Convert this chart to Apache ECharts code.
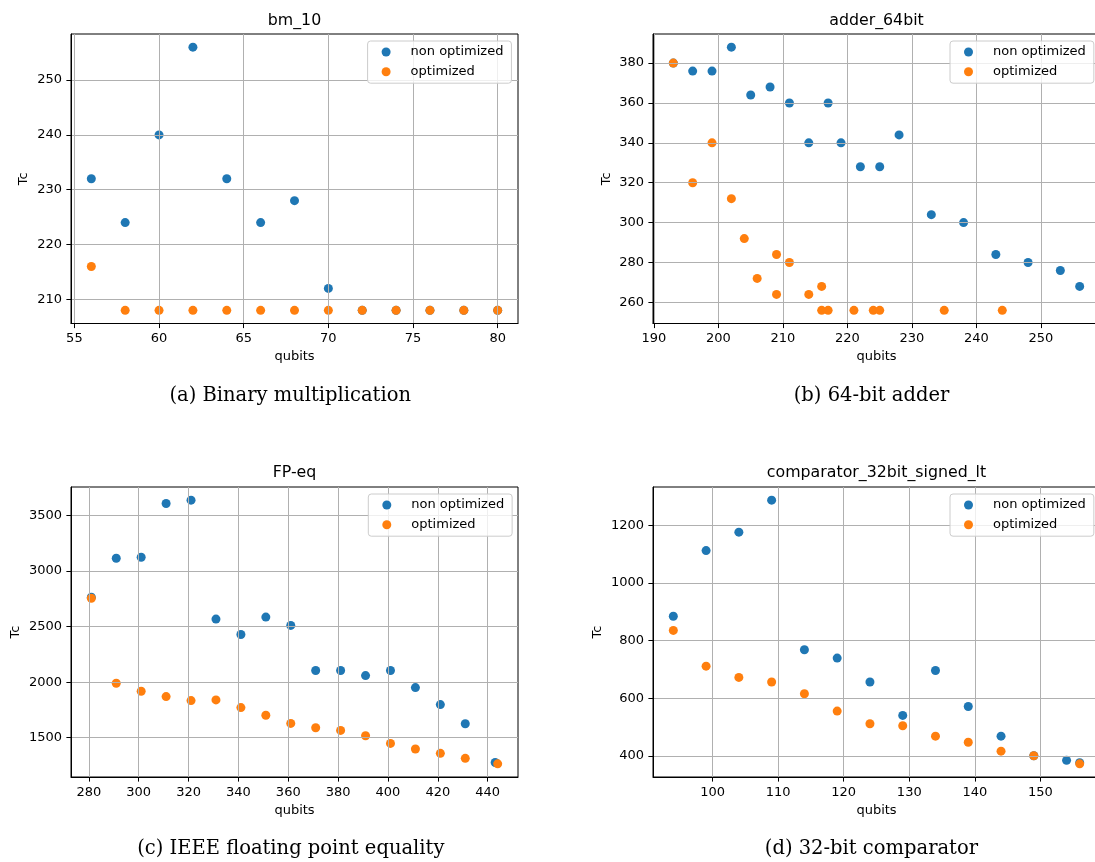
<!DOCTYPE html>
<html>
<head>
<meta charset="utf-8" />
<title>Tc vs qubits</title>
<script src="https://cdn.jsdelivr.net/npm/echarts@6/dist/echarts.min.js"></script>
<style>
html, body { margin: 0; padding: 0; background: #fff; }
#main { width: 1095px; height: 862px; }
</style>
</head>
<body>
<div id="main"></div>
<script>
// (a) bm_10
var bmQubitsNon = [56, 58, 60, 62, 64, 66, 68, 70, 72, 74, 76, 78, 80];
var bmTcNon = [232, 224, 240, 256, 232, 224, 228, 212, 208, 208, 208, 208, 208];
var bmQubitsOpt = [56, 58, 60, 62, 64, 66, 68, 70, 72, 74, 76, 78, 80];
var bmTcOpt = [216, 208, 208, 208, 208, 208, 208, 208, 208, 208, 208, 208, 208];
var bmXTicks = [55, 60, 65, 70, 75, 80];
var bmYTicks = [210, 220, 230, 240, 250];

// (b) adder_64bit
var adderQubitsNon = [193, 196, 199, 202, 205, 208, 211, 214, 217, 219, 222, 225, 228, 233, 238, 243, 248, 253, 256];
var adderTcNon = [380, 376, 376, 388, 364, 368, 360, 340, 360, 340, 328, 328, 344, 304, 300, 284, 280, 276, 268];
var adderQubitsOpt = [193, 196, 199, 202, 204, 206, 209, 209, 211, 214, 216, 216, 217, 221, 224, 225, 235, 244];
var adderTcOpt = [380, 320, 340, 312, 292, 272, 284, 264, 280, 264, 268, 256, 256, 256, 256, 256, 256, 256];
var adderXTicks = [190, 200, 210, 220, 230, 240, 250];
var adderYTicks = [260, 280, 300, 320, 340, 360, 380];

// (c) FP-eq
var fpQubitsNon = [281, 291, 301, 311, 321, 331, 341, 351, 361, 371, 381, 391, 401, 411, 421, 431, 443];
var fpTcNon = [2765, 3115, 3124, 3608, 3638, 2568, 2429, 2586, 2511, 2105, 2105, 2059, 2105, 1951, 1798, 1626, 1277];
var fpQubitsOpt = [281, 291, 301, 311, 321, 331, 341, 351, 361, 371, 381, 391, 401, 411, 421, 431, 444];
var fpTcOpt = [2755, 1990, 1918, 1870, 1834, 1840, 1771, 1702, 1629, 1590, 1566, 1518, 1449, 1398, 1359, 1314, 1265];
var fpXTicks = [280, 300, 320, 340, 360, 380, 400, 420, 440];
var fpYTicks = [1500, 2000, 2500, 3000, 3500];

// (d) comparator_32bit_signed_lt
var cmpQubitsNon = [94, 99, 104, 109, 114, 119, 124, 129, 134, 139, 144, 149, 154, 156];
var cmpTcNon = [884, 1112, 1176, 1287, 768, 739, 656, 540, 696, 571, 468, 400, 384, 376];
var cmpQubitsOpt = [94, 99, 104, 109, 114, 119, 124, 129, 134, 139, 144, 149, 156];
var cmpTcOpt = [835, 711, 672, 656, 615, 555, 511, 504, 468, 447, 416, 400, 372];
var cmpXTicks = [100, 110, 120, 130, 140, 150];
var cmpYTicks = [400, 600, 800, 1000, 1200];

var titles = ['bm_10', 'adder_64bit', 'FP-eq', 'comparator_32bit_signed_lt'];
var captions = ['(a) Binary multiplication', '(b) 64-bit adder', '(c) IEEE floating point equality', '(d) 32-bit comparator'];
var seriesNames = ['non optimized', 'optimized'];

var BLUE = '#1f77b4', ORANGE = '#ff7f0e';
var SANS = 'DejaVu Sans';

function pairs(xs, ys) {
	return xs.map(function(x, i) { return [x, ys[i]]; });
}

// matplotlib style 5% autoscale margins
function limits(a, b) {
	var all = a.concat(b);
	var lo = Math.min.apply(null, all), hi = Math.max.apply(null, all);
	var m = (hi - lo) * 0.05;
	return [lo - m, hi + m];
}

var panels = [
	{ xn: bmQubitsNon, yn: bmTcNon, xo: bmQubitsOpt, yo: bmTcOpt, xt: bmXTicks, yt: bmYTicks },
	{ xn: adderQubitsNon, yn: adderTcNon, xo: adderQubitsOpt, yo: adderTcOpt, xt: adderXTicks, yt: adderYTicks },
	{ xn: fpQubitsNon, yn: fpTcNon, xo: fpQubitsOpt, yo: fpTcOpt, xt: fpXTicks, yt: fpYTicks },
	{ xn: cmpQubitsNon, yn: cmpTcNon, xo: cmpQubitsOpt, yo: cmpTcOpt, xt: cmpXTicks, yt: cmpYTicks }
];

// layout of the 2x2 subplots (right column runs past the picture edge)
var gridPos = [
	{ left: 71, top: 34, width: 447, height: 289.5 },
	{ left: 653, top: 34, width: 447, height: 289.5 },
	{ left: 71, top: 487, width: 447, height: 290 },
	{ left: 653, top: 487, width: 447, height: 290 }
];
var yNameGap = [41, 40, 48.5, 49];
var legendPos = [[367.6, 41], [950, 41], [368.3, 494], [950, 494]];
var titlePos = [[294.5, 20.7], [876.5, 20.7], [294.5, 473.3], [876.5, 473.3]];
var captionPos = [[290.2, 396], [871.5, 396], [290.8, 849.3], [871.4, 849.3]];

var grids = [], xAxes = [], yAxes = [], series = [], legends = [], texts = [];

panels.forEach(function(p, i) {
	var xl = limits(p.xn, p.xo), yl = limits(p.yn, p.yo);
	grids.push({
		left: gridPos[i].left, top: gridPos[i].top,
		width: gridPos[i].width, height: gridPos[i].height,
		outerBoundsMode: 'none', containLabel: false,
		show: true, borderColor: '#000', borderWidth: 1, backgroundColor: 'transparent'
	});
	xAxes.push({
		type: 'value', gridIndex: i, min: xl[0], max: xl[1], z: 3,
		name: 'qubits', nameLocation: 'middle', nameGap: 27,
		nameTextStyle: { fontSize: 13, color: '#000', fontFamily: SANS },
		axisLine: { show: true, onZero: false, lineStyle: { color: '#000', width: 1 } },
		axisTick: { show: true, inside: false, length: 4.6, customValues: p.xt, lineStyle: { color: '#000', width: 1 } },
		axisLabel: { customValues: p.xt, margin: 9, fontSize: 13, color: '#000', fontFamily: SANS,
			formatter: function(v) { return String(v); } },
		splitLine: { show: true, lineStyle: { color: '#b0b0b0', width: 1 } }
	});
	yAxes.push({
		type: 'value', gridIndex: i, min: yl[0], max: yl[1], z: 3,
		name: 'Tc', nameLocation: 'middle', nameGap: yNameGap[i], nameRotate: 90,
		nameTextStyle: { fontSize: 13, color: '#000', fontFamily: SANS },
		axisLine: { show: true, onZero: false, lineStyle: { color: '#000', width: 1 } },
		axisTick: { show: true, inside: false, length: 4.6, customValues: p.yt, lineStyle: { color: '#000', width: 1 } },
		axisLabel: { customValues: p.yt, margin: 9, fontSize: 13, color: '#000', fontFamily: SANS,
			formatter: function(v) { return String(v); } },
		splitLine: { show: true, lineStyle: { color: '#b0b0b0', width: 1 } }
	});
	series.push({
		name: seriesNames[0], type: 'scatter', xAxisIndex: i, yAxisIndex: i,
		symbolSize: 9, itemStyle: { color: BLUE, opacity: 1 }, data: pairs(p.xn, p.yn)
	});
	series.push({
		name: seriesNames[1], type: 'scatter', xAxisIndex: i, yAxisIndex: i,
		symbolSize: 9, itemStyle: { color: ORANGE, opacity: 1 }, data: pairs(p.xo, p.yo)
	});
	legends.push({
		left: legendPos[i][0], top: legendPos[i][1], orient: 'vertical',
		data: seriesNames, icon: 'circle', itemWidth: 9, itemHeight: 9, itemGap: 4.7,
		padding: [3.5, 8, 4, 14],
		backgroundColor: 'rgba(255,255,255,0.8)', borderColor: '#cccccc', borderWidth: 1, borderRadius: 3,
		textStyle: { fontSize: 13, lineHeight: 15, color: '#000', fontFamily: SANS, padding: [0, 0, 0, 15] },
		z: 10
	});
	texts.push({
		type: 'text', x: titlePos[i][0], y: titlePos[i][1],
		style: { text: titles[i], align: 'center', verticalAlign: 'middle', fontSize: 15.8, fontFamily: SANS, fill: '#000' }
	});
	texts.push({
		type: 'text', x: captionPos[i][0], y: captionPos[i][1],
		style: { text: captions[i], align: 'center', verticalAlign: 'middle', fontSize: 19.5, fontFamily: 'DejaVu Serif', fill: '#000' }
	});
});

var chart = echarts.init(document.getElementById('main'));
chart.setOption({
	backgroundColor: '#fff',
	animation: false,
	grid: grids,
	xAxis: xAxes,
	yAxis: yAxes,
	legend: legends,
	series: series,
	graphic: texts
});
</script>
</body>
</html>
